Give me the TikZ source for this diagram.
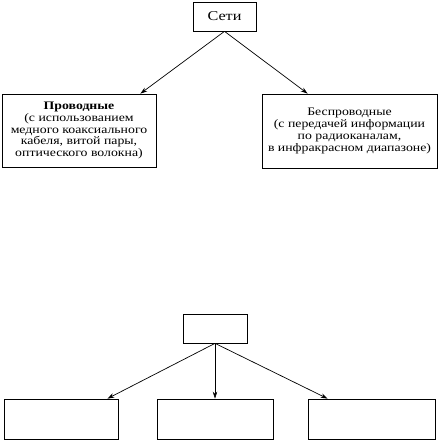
\documentclass[tikz,border=0pt]{standalone}
\usepackage{fontspec}
\setmainfont[FakeStretch=1.2]{Liberation Serif}
\usetikzlibrary{arrows.meta,positioning,calc}

\begin{document}
\begin{tikzpicture}[x=1pt,y=-1pt,>={Stealth[length=7pt,width=4.5pt]},
 box/.style={draw,line width=0.7pt,align=center,inner sep=2pt,font=\fontsize{11.5}{11.7}\selectfont},
 arr/.style={->,line width=0.7pt}]
\useasboundingbox (0,0) rectangle (439,441);
% upper tree
\node[box,minimum width=63pt,minimum height=29pt,font=\fontsize{13.5}{14}\selectfont] (net) at (224.5,16.5) {Сети};
\node[box,minimum width=154pt,minimum height=73pt] (wired) at (79,130.5) {\textbf{Проводные}\\(с использованием\\медного коаксиального\\кабеля, витой пары,\\оптического волокна)};
\node[box,minimum width=175pt,minimum height=74pt] (wireless) at (349.5,131) {Беспроводные\\(с передачей информации\\по радиоканалам,\\в инфракрасном диапазоне)};
\draw[arr] (net.south) -- ([xshift=-16pt]wired.north east);
\draw[arr] (net.south) -- ([xshift=46pt]wireless.north west);
% lower tree, empty boxes
\node[box,minimum width=64pt,minimum height=29pt] (root) at (215,328.5) {};
\node[box,minimum width=114pt,minimum height=40pt] (b1) at (61,419) {};
\node[box,minimum width=116pt,minimum height=40pt] (b2) at (215,419) {};
\node[box,minimum width=127pt,minimum height=40pt] (b3) at (371.5,419) {};
\draw[arr] (root.south) -- ([xshift=-11pt]b1.north east);
\draw[arr] (root.south) -- (b2.north);
\draw[arr] (root.south) -- ([xshift=20pt]b3.north west);
\end{tikzpicture}
\end{document}
